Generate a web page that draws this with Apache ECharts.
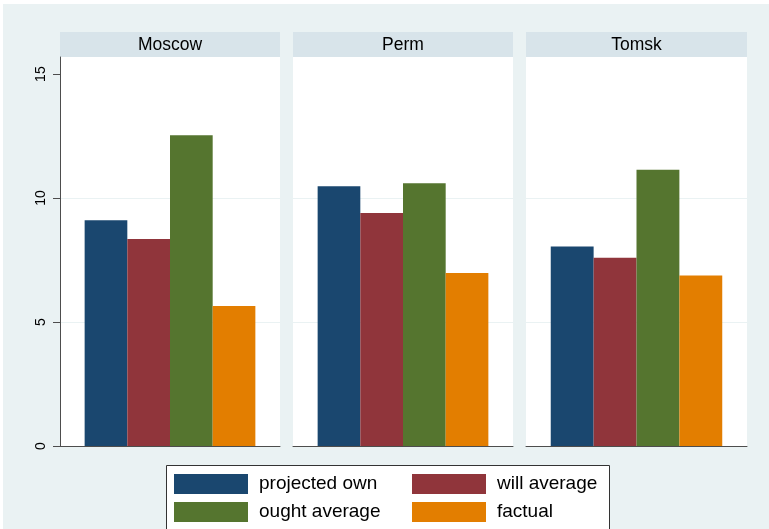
<!DOCTYPE html>
<html>
<head>
<meta charset="utf-8">
<script src="https://cdn.jsdelivr.net/npm/echarts@6/dist/echarts.min.js"></script>
<style>
  html, body { margin: 0; padding: 0; background: #ffffff; }
  #chart { width: 769px; height: 529px; }
</style>
</head>
<body>
<div id="chart"></div>
<script>
// Mean ratings by city, four measures per panel
const regions = ['Moscow', 'Perm', 'Tomsk'];
const seriesNames = ['projected own', 'will average', 'ought average', 'factual'];
const projectedOwn = [9.11, 10.48, 8.05];
const willAverage = [8.35, 9.40, 7.59];
const oughtAverage = [12.53, 10.60, 11.14];
const factual = [5.65, 6.98, 6.88];
const yTicks = [0, 5, 10, 15];

const values = [projectedOwn, willAverage, oughtAverage, factual];
const colors = ['#1a476f', '#90353b', '#55752f', '#e37e00'];

const FONT = '"Liberation Sans", Arial, Helvetica, sans-serif';
const AXIS_COLOR = '#4d4d4d';
const GRID_LINE = '#eaf2f3';
const STRIP = '#d8e4ea';

// panel geometry
const panelLeft = [60, 293, 526];
const panelWidth = [220, 220, 221];
const plotTop = 57;
const plotBottom = 446;
const stripTop = 32;
const yMax = 15.69;

const chart = echarts.init(document.getElementById('chart'));

const grids = [], xAxes = [], yAxes = [], series = [], graphics = [];

graphics.push({
  type: 'rect', z: -100,
  shape: { x: 3, y: 4, width: 766, height: 525 },
  style: { fill: '#eaf2f3' }
});

// legend frame
graphics.push({
  type: 'rect', z: -50,
  shape: { x: 166.5, y: 465.5, width: 443, height: 80 },
  style: { fill: '#ffffff', stroke: '#333333', lineWidth: 1 }
});

regions.forEach((region, i) => {
  grids.push({
    left: panelLeft[i], top: plotTop,
    width: panelWidth[i], height: plotBottom - plotTop,
    show: true, backgroundColor: '#ffffff', borderWidth: 0
  });
  xAxes.push({
    gridIndex: i, type: 'category', data: [region],
    axisLine: { show: true, lineStyle: { color: AXIS_COLOR, width: 1 } },
    axisTick: { show: false }, axisLabel: { show: false }
  });
  yAxes.push({
    gridIndex: i, type: 'value', min: 0, max: yMax, interval: 5,
    axisLine: { show: i === 0, lineStyle: { color: AXIS_COLOR, width: 1 } },
    axisTick: { show: i === 0, length: 7, customValues: yTicks, lineStyle: { color: AXIS_COLOR } },
    axisLabel: {
      show: i === 0, customValues: yTicks, rotate: 90, margin: 12,
      fontFamily: FONT, fontSize: 14, color: '#000'
    },
    splitLine: { show: true, showMinLine: false, showMaxLine: false,
      lineStyle: { color: GRID_LINE, width: 1.2 } }
  });
  seriesNames.forEach((name, k) => {
    series.push({
      type: 'bar', name: name,
      xAxisIndex: i, yAxisIndex: i,
      data: [values[k][i]],
      itemStyle: { color: colors[k] },
      barGap: '0%', barCategoryGap: '22.4%',
      emphasis: { disabled: true }
    });
  });
  // strip header
  graphics.push({
    type: 'rect',
    shape: { x: panelLeft[i], y: stripTop, width: panelWidth[i], height: plotTop - stripTop },
    style: { fill: STRIP }
  });
  graphics.push({
    type: 'text',
    style: {
      text: region, x: panelLeft[i] + panelWidth[i] / 2, y: (stripTop + plotTop) / 2 + 0.5,
      align: 'center', verticalAlign: 'middle',
      font: '17.5px ' + FONT, fill: '#000'
    }
  });
});

// two legend columns
const legendBase = {
  orient: 'vertical',
  top: 474,
  padding: 0,
  itemGap: 8,
  itemWidth: 74, itemHeight: 20,
  icon: 'rect',
  selectedMode: false,
  textStyle: { fontFamily: FONT, fontSize: 19, color: '#000', padding: [0, 0, 0, 6] }
};

chart.setOption({
  animation: false,
  backgroundColor: '#ffffff',
  grid: grids,
  xAxis: xAxes,
  yAxis: yAxes,
  series: series,
  graphic: graphics,
  legend: [
    Object.assign({}, legendBase, { left: 174, data: [seriesNames[0], seriesNames[2]] }),
    Object.assign({}, legendBase, { left: 412, data: [seriesNames[1], seriesNames[3]] })
  ]
});
</script>
</body>
</html>
